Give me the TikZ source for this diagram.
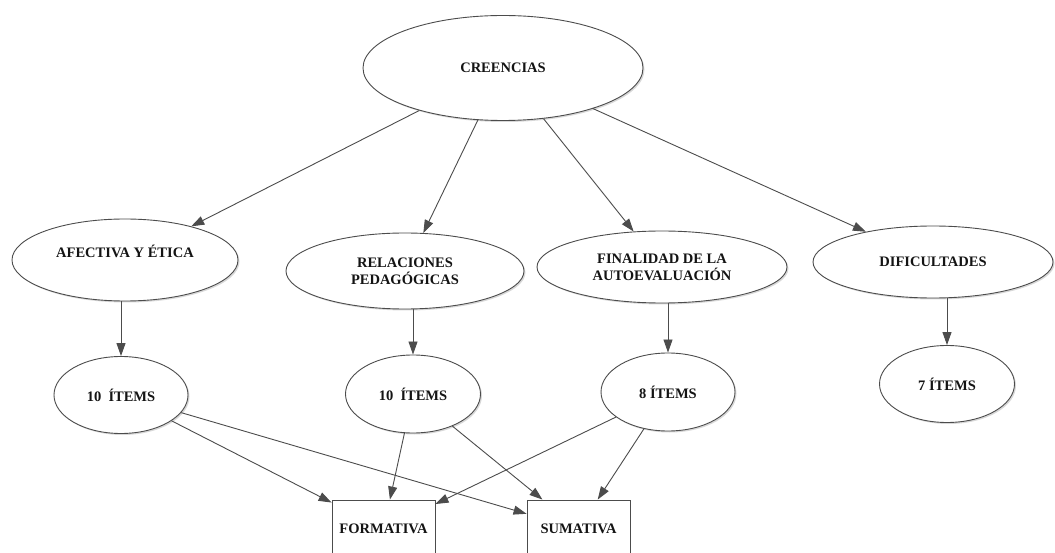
\documentclass[tikz,border=0pt]{standalone}
\usepackage{fontspec}
\setmainfont{Liberation Serif}
\usetikzlibrary{arrows.meta,shapes.geometric,shadows}
\begin{document}
\begin{tikzpicture}[x=1pt,y=-1pt,
  every node/.style={font=\fontsize{14.5}{17}\selectfont\bfseries, text=black!92},
  ell/.style={ellipse, draw=black!70, line width=0.9pt, fill=white, inner sep=0pt, align=center,
    drop shadow={shadow xshift=1.5pt,shadow yshift=-1.5pt,opacity=0.3}},
  boxnode/.style={rectangle, draw=black!70, line width=0.9pt, fill=white, inner sep=0pt},
  arr/.style={draw=black!70, line width=0.9pt, -{Triangle[length=13pt,width=9pt]}}]

\useasboundingbox[fill=white] (0,0) rectangle (1055,553);

\node[ell, minimum width=280, minimum height=105] (cre) at (503,68) {CREENCIAS};

\node[ell, minimum width=226, minimum height=82] (afe) at (125,260) {AFECTIVA Y ÉTICA\\\phantom{A}};
\node[ell, minimum width=238, minimum height=76] (rel) at (405,271) {RELACIONES\\PEDAGÓGICAS};
\node[ell, minimum width=250, minimum height=72] (fin) at (662,267) {FINALIDAD DE LA\\AUTOEVALUACIÓN};
\node[ell, minimum width=240, minimum height=72] (dif) at (933,262) {DIFICULTADES};

\node[ell, minimum width=134, minimum height=77] (i1) at (121,395) {10\ \ ÍTEMS};
\node[ell, minimum width=135, minimum height=78] (i2) at (413,394) {10\ \ ÍTEMS};
\node[ell, minimum width=134, minimum height=78] (i3) at (668,392) {8 ÍTEMS};
\node[ell, minimum width=135, minimum height=77] (i4) at (947,384) {7 ÍTEMS};

\node[boxnode, minimum width=103, minimum height=58] (for) at (383.5,529) {FORMATIVA};
\node[boxnode, minimum width=103, minimum height=58] (sum) at (578.5,529) {SUMATIVA};

\draw[arr] (cre) -- (afe);
\draw[arr] (cre) -- (rel);
\draw[arr] (cre) -- (fin);
\draw[arr] (cre) -- (dif);

\draw[arr] (i1 |- afe.south) -- (i1);
\draw[arr] (i2 |- rel.south) -- (i2);
\draw[arr] (i3 |- fin.south) -- (i3);
\draw[arr] (i4 |- dif.south) -- (i4);

\draw[arr] (i1) -- (for);
\draw[arr] (i1) -- (sum);
\draw[arr] (i2) -- (for);
\draw[arr] (i2) -- (sum);
\draw[arr] (i3) -- (for);
\draw[arr] (i3) -- (sum);
\end{tikzpicture}
\end{document}
